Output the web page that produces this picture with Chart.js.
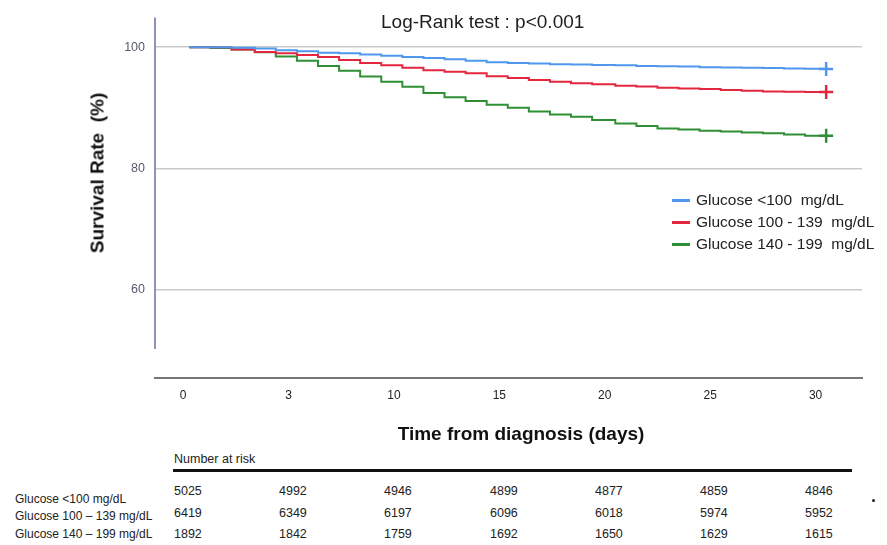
<!DOCTYPE html>
<html>
<head>
<meta charset="utf-8">
<script src="https://cdn.jsdelivr.net/npm/chart.js@4/dist/chart.umd.min.js"></script>
<style>
  html, body { margin: 0; padding: 0; background: #fff; }
  #wrap { position: relative; width: 887px; height: 545px; overflow: hidden; font-family: "Liberation Sans", Arial, sans-serif; }
  #c { position: absolute; left: 0; top: 0; }
  .abs { position: absolute; white-space: pre; line-height: 1; }
  #title { left: 381px; top: 12px; font-size: 19px; color: #1e1e1e; }
  #ytitle { left: 97px; top: 173px; font-size: 19px; font-weight: bold; color: #111; transform: translate(-50%, -50%) rotate(-90deg); }
  #xtitle { left: 521px; top: 433px; font-size: 19px; font-weight: bold; color: #111; transform: translate(-50%, -50%); }
  .leg { position: absolute; left: 672px; font-size: 15.5px; color: #222; white-space: pre; line-height: 1; }
  .leg i { position: absolute; left: 0; top: 50%; width: 18px; height: 3px; margin-top: -1px; }
  .leg span { position: absolute; left: 24px; top: -8px; }
  .rk { position: absolute; font-size: 12.5px; color: #222; white-space: pre; line-height: 1; transform: translateY(-50%); }
  .rl { position: absolute; font-size: 12px; color: #222; white-space: pre; line-height: 1; transform: translateY(-50%); }
</style>
</head>
<body>
<div id="wrap">
  <canvas id="c" width="887" height="450"></canvas>
  <div id="title" class="abs">Log-Rank test : p&lt;0.001</div>
  <div id="ytitle" class="abs">Survival Rate  (%)</div>
  <div id="xtitle" class="abs">Time from diagnosis (days)</div>
  <div id="legend"></div>
  <div id="risk"></div>
</div>
<script>
// ---- data ----
const groups = ['Glucose <100  mg/dL', 'Glucose 100 - 139  mg/dL', 'Glucose 140 - 199  mg/dL'];
const riskLabels = ['Glucose <100 mg/dL', 'Glucose 100 \u2013 139 mg/dL', 'Glucose 140 \u2013 199 mg/dL'];
const colors = ['#4f98ee', '#e5263f', '#2f8f34'];

// event times (days) of the steps, last entry = end of follow-up (censor mark)
const times = [0.3, 1.3, 2.3, 3.4, 4.4, 5.4, 6.4, 7.4, 8.4, 9.4, 10.4, 11.4, 12.4, 13.4, 14.4,
               15.4, 16.4, 17.4, 18.4, 19.4, 20.5, 21.5, 22.5, 23.5, 24.5, 25.5, 26.5, 27.5, 28.5, 29.5, 30.5];

const survLow = [100, 100, 99.9, 99.8, 99.5, 99.35, 99.1, 99.0, 98.8, 98.6, 98.4, 98.2, 98.0, 97.75, 97.5,
                 97.4, 97.3, 97.2, 97.15, 97.05, 97.0, 96.9, 96.85, 96.8, 96.7, 96.65, 96.6, 96.55, 96.5, 96.45, 96.4];
const survMid = [100, 100, 99.6, 99.2, 99.0, 98.7, 98.4, 97.9, 97.4, 97.0, 96.6, 96.2, 95.95, 95.7, 95.2,
                 94.9, 94.6, 94.3, 94.05, 93.9, 93.65, 93.5, 93.3, 93.2, 93.1, 92.95, 92.8, 92.7, 92.65, 92.6, 92.6];
const survHigh = [100, 99.85, 99.6, 99.15, 98.45, 97.75, 96.9, 96.1, 95.15, 94.3, 93.45, 92.45, 91.75, 91.1, 90.5,
                  90.0, 89.4, 88.9, 88.5, 88.0, 87.4, 87.0, 86.6, 86.4, 86.2, 86.1, 85.9, 85.8, 85.6, 85.4, 85.4];

const xTickPositions = [0, 5, 10, 15, 20, 25, 30];
const xTickLabels = ['0', '3', '10', '15', '20', '25', '30'];
const yTicks = [60, 80, 100];

const riskLow  = [5025, 4992, 4946, 4899, 4877, 4859, 4846];
const riskMid  = [6419, 6349, 6197, 6096, 6018, 5974, 5952];
const riskHigh = [1892, 1842, 1759, 1692, 1650, 1629, 1615];

// ---- chart ----
const series = [survLow, survMid, survHigh];
const datasets = series.map((s, i) => ({
  label: groups[i],
  data: s.map((v, j) => ({ x: times[j], y: v })),
  borderColor: colors[i],
  backgroundColor: colors[i],
  borderWidth: 2,
  stepped: 'before',
  fill: false,
  pointStyle: 'cross',
  pointRadius: s.map((v, j) => j === s.length - 1 ? 7 : 0),
  pointBorderWidth: 2.5,
  pointHoverRadius: 0
}));

const yAxisLine = {
  id: 'yAxisLine',
  beforeDatasetsDraw(chart) {
    const { ctx, chartArea, scales } = chart;
    ctx.save();
    ctx.strokeStyle = '#8c93b4';
    ctx.lineWidth = 2;
    ctx.beginPath();
    ctx.moveTo(chartArea.left, scales.y.getPixelForValue(104.9));
    ctx.lineTo(chartArea.left, scales.y.getPixelForValue(50.2));
    ctx.stroke();
    ctx.restore();
  }
};

new Chart(document.getElementById('c'), {
  type: 'line',
  data: { datasets },
  plugins: [yAxisLine],
  options: {
    responsive: false,
    animation: false,
    devicePixelRatio: 1,
    layout: { padding: { left: 0, right: 25, top: 15, bottom: 0 } },
    plugins: { legend: { display: false }, tooltip: { enabled: false }, title: { display: false } },
    scales: {
      x: {
        type: 'linear',
        min: -1.33, max: 32.2,
        afterFit(s) { s.height = 72; },
        afterBuildTicks(s) { s.ticks = xTickPositions.map(v => ({ value: v })); },
        grid: { display: false, drawTicks: false },
        border: { display: true, color: '#767676', width: 2 },
        ticks: {
          padding: 10,
          color: '#222',
          font: { family: 'Liberation Sans', size: 12 },
          callback: (v, i) => xTickLabels[i]
        }
      },
      y: {
        min: 45.4, max: 104.9,
        afterFit(s) { s.width = 155; },
        afterBuildTicks(s) { s.ticks = yTicks.map(v => ({ value: v })); },
        grid: { color: '#c9c9cc', lineWidth: 1.5, drawTicks: false },
        border: { display: false },
        ticks: {
          padding: 10,
          color: '#555a6b',
          font: { family: 'Liberation Sans', size: 12.5 }
        }
      }
    }
  }
});

// ---- legend (HTML) ----
const legendTops = [200, 222, 244];
const legend = document.getElementById('legend');
groups.forEach((g, i) => {
  const d = document.createElement('div');
  d.className = 'leg';
  d.style.top = legendTops[i] + 'px';
  d.innerHTML = '<i style="background:' + colors[i] + '"></i><span></span>';
  d.querySelector('span').textContent = g;
  legend.appendChild(d);
});

// ---- number at risk table (HTML) ----
const risk = document.getElementById('risk');
function addText(cls, txt, left, top) {
  const d = document.createElement('div');
  d.className = cls;
  d.style.left = left + 'px';
  d.style.top = top + 'px';
  d.textContent = txt;
  risk.appendChild(d);
  return d;
}
addText('rk', 'Number at risk', 174, 459);
const line = document.createElement('div');
line.style.cssText = 'position:absolute;left:173px;top:469px;width:679px;height:3px;background:#111;';
risk.appendChild(line);
const dot = document.createElement('div');
dot.style.cssText = 'position:absolute;left:872px;top:499px;width:3px;height:3px;background:#222;border-radius:50%;';
risk.appendChild(dot);
const colLefts = [174, 279, 384, 490, 595, 700, 805];
const rowTops = [491, 513, 534];
const labelTops = [499, 516, 534];
[riskLow, riskMid, riskHigh].forEach((row, r) => {
  addText('rl', riskLabels[r], 15, labelTops[r]);
  row.forEach((v, c) => addText('rk', String(v), colLefts[c], rowTops[r]));
});
</script>
</body>
</html>
